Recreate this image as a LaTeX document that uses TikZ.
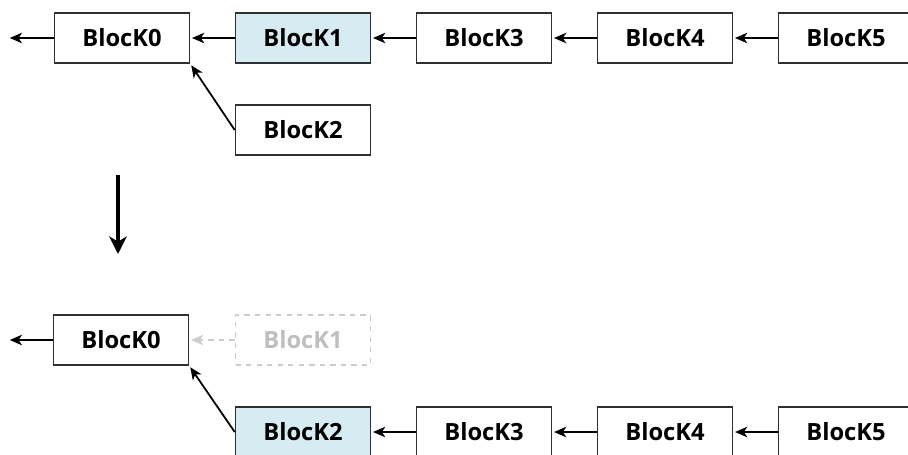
\documentclass[tikz,border=0pt]{standalone}
\usepackage{fontspec}
\setmainfont{Open Sans}
\usetikzlibrary{arrows.meta}
\definecolor{BlockBlue}{HTML}{D6EBF2}
\definecolor{BlockLine}{HTML}{303030}

\begin{document}
\begin{tikzpicture}[
          % Environment Config
          x=0.02cm, y=-0.02cm,
          font=\fontsize{13.5}{16}\selectfont\bfseries,
          Block/.style={% Style for the blocks
            draw=BlockLine,
            line width=0.9pt,
            minimum width=2.7cm,
            minimum height=1cm,
            inner sep=0pt
          },
          Current/.style={% Style for the highlighted block
            Block,
            fill=BlockBlue
          },
          Gone/.style={% Style for the removed block
            Block,
            dashed,
            draw=black!20,
            text=black!25
          },
          Link/.style={% Style for the links
            -{Stealth[length=7pt,width=6pt,inset=2pt]},
            line width=1pt,
            shorten >= 1pt
          },
          GoneLink/.style={% Style for the removed link
            Link,
            dashed,
            black!20
          },
          Step/.style={% Style for the big arrow
            -{Stealth[length=10pt,width=10pt,inset=3pt]},
            line width=1.8pt
          }
        ]

        \useasboundingbox (0,0) rectangle (908,454);

        % Put the blocks before
        \node[Block]   (A0) at (122,38)  {BlocK0};
        \node[Current] (A1) at (303,38)  {BlocK1};
        \node[Block]   (A3) at (484,38)  {BlocK3};
        \node[Block]   (A4) at (665,38)  {BlocK4};
        \node[Block]   (A5) at (846,38)  {BlocK5};
        \node[Block]   (A2) at (303,130) {BlocK2};
        \coordinate (A-OUT) at (8,38);

        % Put the blocks after
        \node[Block]   (B0) at (121,340) {BlocK0};
        \node[Gone]    (B1) at (303,340) {BlocK1};
        \node[Current] (B2) at (303,432) {BlocK2};
        \node[Block]   (B3) at (484,432) {BlocK3};
        \node[Block]   (B4) at (665,432) {BlocK4};
        \node[Block]   (B5) at (846,432) {BlocK5};
        \coordinate (B-OUT) at (8,340);

        % Draw the links
        \draw[Link] (A0) -- (A-OUT);
        \foreach \from/\to in {A1/A0, A3/A1, A4/A3, A5/A4, B3/B2, B4/B3, B5/B4}
          \draw[Link] (\from) -- (\to);
        \draw[Link] (A2.west) -- (A0.south east);
        \draw[Link] (B0) -- (B-OUT);
        \draw[GoneLink] (B1) -- (B0);
        \draw[Link] (B2.west) -- (B0.south east);

        %===Step===
        \coordinate (S1) at (118,175);
        \coordinate (S2) at (118,254);
        \draw[Step] (S1) -- (S2);

        \end{tikzpicture}
\end{document}
